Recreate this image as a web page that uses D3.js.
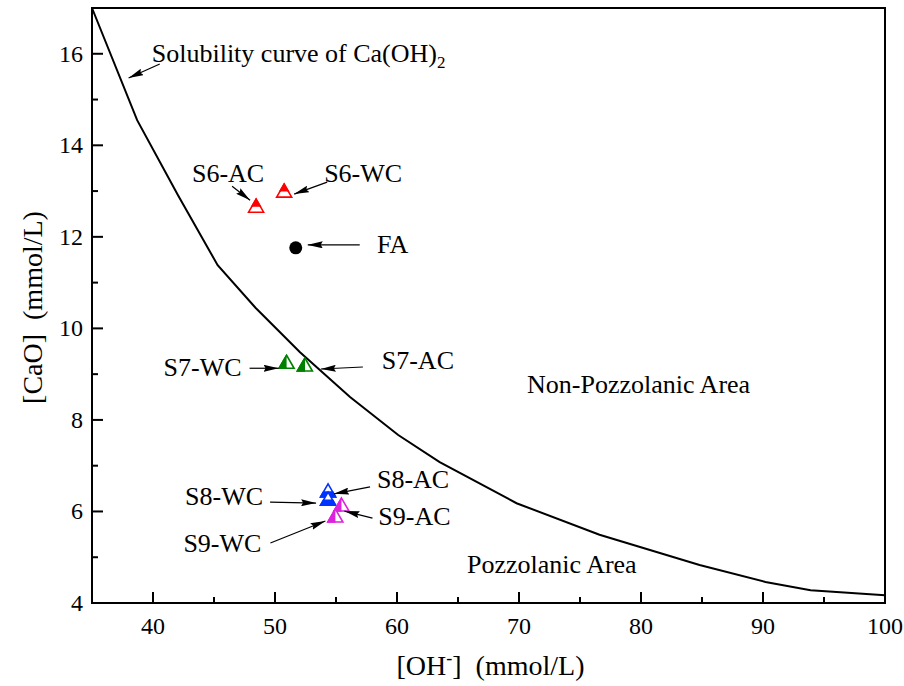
<!DOCTYPE html>
<html><head><meta charset="utf-8">
<script src="https://cdn.jsdelivr.net/npm/d3@7"></script>
<style>
html,body{margin:0;padding:0;background:#fff;}
text{font-family:"Liberation Serif","Times New Roman",serif;fill:#000;}
</style></head>
<body><svg id="chart" width="904" height="686"></svg>
<script>
// Solubility curve of Ca(OH)2
const curveOH  = [35, 38.7, 42.05, 45.3, 48.4, 52.05, 56.15, 60.1, 63.5, 69.8, 76.6, 84.8, 90.2, 93.9, 100];
const curveCaO = [17.0, 14.55, 12.91, 11.38, 10.45, 9.48, 8.5, 7.67, 7.08, 6.18, 5.49, 4.83, 4.46, 4.28, 4.17];

// Samples
const sampleNames = ["S6-AC", "S6-WC", "FA", "S7-WC", "S7-AC", "S8-AC", "S8-WC", "S9-AC", "S9-WC"];
const sampleOH    = [48.45, 50.75, 51.7, 50.95, 52.45, 54.35, 54.35, 55.45, 54.95];
const sampleCaO   = [12.67, 13.0, 11.76, 9.26, 9.2, 6.45, 6.27, 6.14, 5.9];

// Tick values
const xTicks = [40, 50, 60, 70, 80, 90, 100];
const xMinorTicks = [45, 55, 65, 75, 85, 95];
const yTicks = [4, 6, 8, 10, 12, 14, 16];
const yMinorTicks = [5, 7, 9, 11, 13, 15];

// ---- styling / layout (not data) ----
const markerStyle = {
  "S6-AC": {shape: "tri", color: "#ff0000", half: "top"},
  "S6-WC": {shape: "tri", color: "#ff0000", half: "top"},
  "FA":    {shape: "circle", color: "#000000"},
  "S7-WC": {shape: "tri", color: "#008000", half: "left"},
  "S7-AC": {shape: "tri", color: "#008000", half: "left"},
  "S8-AC": {shape: "tri", color: "#0033ff", half: "bottom"},
  "S8-WC": {shape: "tri", color: "#0033ff", half: "bottom"},
  "S9-AC": {shape: "tri", color: "#dd22dd", half: "left"},
  "S9-WC": {shape: "tri", color: "#dd22dd", half: "left"}
};
// label offset (tx, ty) and arrow from (ax1, ay1) to (ax2, ay2), in px relative to marker
const labelLayout = {
  "S6-AC": [-28, -24, -24, -20, -6, -6],
  "S6-WC": [79, -9, 43, -9, 10, 3],
  "FA":    [97, 5, 64, -3, 12, -3],
  "S7-WC": [-84, 14, -37, 6, -8, 6],
  "S7-AC": [113, 4, 58, 2, 16, 4],
  "S8-AC": [85, -3, 42, -4, 6, 3],
  "S8-WC": [-104, 6, -58, 3, -12, 4],
  "S9-AC": [73, 20, 31, 13, 3, 6],
  "S9-WC": [-113, 36, -65, 27, -10, 5]
};

const svg = d3.select("#chart");
const W = 904, H = 686;
const m = {left: 92, right: 19, top: 8, bottom: 83};
const x = d3.scaleLinear().domain([35, 100]).range([m.left, W - m.right]);
const y = d3.scaleLinear().domain([4, 17]).range([H - m.bottom, m.top]);
const LABEL_FS = 26, TICK_FS = 24, TITLE_FS = 28;

// defs
const defs = svg.append("defs");
defs.append("marker").attr("id", "arr").attr("viewBox", "0 0 15 7")
  .attr("refX", 15).attr("refY", 3.5).attr("markerWidth", 15).attr("markerHeight", 7)
  .attr("markerUnits", "userSpaceOnUse").attr("orient", "auto")
  .append("path").attr("d", "M0,0 L15,3.5 L0,7 L2,3.5 Z").attr("fill", "#000");
const clips = {top: [-9, -9, 18, 9.5], bottom: [-9, 0.5, 18, 9], left: [-9, -9, 9, 18]};
Object.entries(clips).forEach(([k, r]) => {
  defs.append("clipPath").attr("id", "clip-" + k)
    .append("rect").attr("x", r[0]).attr("y", r[1]).attr("width", r[2]).attr("height", r[3]);
});

// curve
const line = d3.line().x((d, i) => x(curveOH[i])).y((d, i) => y(curveCaO[i]));
svg.append("path").datum(curveOH).attr("d", line)
  .attr("fill", "none").attr("stroke", "#000").attr("stroke-width", 2);

// axes (ticks inward)
const axG = svg.append("g");
const y0 = y.range()[0];
axG.selectAll(".xmaj").data(xTicks).join("line").attr("class", "xmaj")
  .attr("x1", d => x(d)).attr("x2", d => x(d)).attr("y1", y0).attr("y2", y0 - 11)
  .attr("stroke", "#000").attr("stroke-width", 2);
axG.selectAll(".xmin").data(xMinorTicks).join("line").attr("class", "xmin")
  .attr("x1", d => x(d)).attr("x2", d => x(d)).attr("y1", y0).attr("y2", y0 - 6)
  .attr("stroke", "#000").attr("stroke-width", 2);
axG.selectAll(".ymaj").data(yTicks).join("line").attr("class", "ymaj")
  .attr("x1", m.left).attr("x2", m.left + 11).attr("y1", d => y(d)).attr("y2", d => y(d))
  .attr("stroke", "#000").attr("stroke-width", 2);
axG.selectAll(".ymin").data(yMinorTicks).join("line").attr("class", "ymin")
  .attr("x1", m.left).attr("x2", m.left + 6).attr("y1", d => y(d)).attr("y2", d => y(d))
  .attr("stroke", "#000").attr("stroke-width", 2);
axG.selectAll(".xlab").data(xTicks).join("text").attr("class", "xlab")
  .attr("x", d => x(d)).attr("y", y0 + 31).attr("text-anchor", "middle")
  .attr("font-size", TICK_FS).text(d3.format("d"));
axG.selectAll(".ylab").data(yTicks).join("text").attr("class", "ylab")
  .attr("x", m.left - 9).attr("y", d => y(d) + 8).attr("text-anchor", "end")
  .attr("font-size", TICK_FS).text(d3.format("d"));

// frame
svg.append("rect").attr("x", m.left).attr("y", m.top)
  .attr("width", W - m.left - m.right).attr("height", H - m.top - m.bottom)
  .attr("fill", "none").attr("stroke", "#000").attr("stroke-width", 2);

// axis titles
const xt = svg.append("text").attr("x", (m.left + W - m.right) / 2 + 2).attr("y", 675)
  .attr("text-anchor", "middle").attr("font-size", TITLE_FS);
xt.append("tspan").text("[OH");
xt.append("tspan").text("-").attr("font-size", 18).attr("dy", -11);
xt.append("tspan").text("]\u00a0\u00a0(mmol/L)").attr("dy", 11);

svg.append("text").attr("transform", `translate(42,${(m.top + H - m.bottom) / 2 + 2}) rotate(-90)`)
  .attr("text-anchor", "middle").attr("font-size", TITLE_FS).text("[CaO]\u00a0\u00a0(mmol/L)");

// samples
const tri = "M0,-7 L7.5,6 L-7.5,6 Z";
sampleNames.forEach((name, i) => {
  const st = markerStyle[name];
  const g = svg.append("g").attr("transform", `translate(${x(sampleOH[i])},${y(sampleCaO[i])})`);
  if (st.shape === "circle") {
    g.append("circle").attr("r", 6.5).attr("fill", st.color);
  } else {
    g.append("path").attr("d", tri).attr("fill", "#fff").attr("stroke", st.color).attr("stroke-width", 1.6);
    g.append("path").attr("d", tri).attr("fill", st.color).attr("stroke", st.color).attr("stroke-width", 1.6)
      .attr("clip-path", `url(#clip-${st.half})`);
  }
});

// labels and arrows
sampleNames.forEach((name, i) => {
  const L = labelLayout[name];
  const px = x(sampleOH[i]), py = y(sampleCaO[i]);
  svg.append("text").attr("x", px + L[0]).attr("y", py + L[1])
    .attr("text-anchor", "middle").attr("font-size", LABEL_FS).text(name);
  svg.append("line").attr("x1", px + L[2]).attr("y1", py + L[3])
    .attr("x2", px + L[4]).attr("y2", py + L[5])
    .attr("stroke", "#000").attr("stroke-width", 1.2).attr("marker-end", "url(#arr)");
});

// curve label
const curveLabel = {x: 39.9, y: 15.82};
const cl = svg.append("text").attr("x", x(curveLabel.x)).attr("y", y(curveLabel.y)).attr("font-size", LABEL_FS);
cl.append("tspan").text("Solubility curve of Ca(OH)");
cl.append("tspan").text("2").attr("font-size", 17).attr("dy", 6);
svg.append("line").attr("x1", x(curveLabel.x) + 8).attr("y1", y(curveLabel.y) + 2)
  .attr("x2", x(38.0)).attr("y2", y(15.47))
  .attr("stroke", "#000").attr("stroke-width", 1.2).attr("marker-end", "url(#arr)");

// area labels
const areaLabels = [{text: "Non-Pozzolanic Area", x: 70.66, y: 8.59}, {text: "Pozzolanic Area", x: 65.74, y: 4.66}];
areaLabels.forEach(a => {
  svg.append("text").attr("x", x(a.x)).attr("y", y(a.y)).attr("font-size", LABEL_FS).text(a.text);
});
</script></body></html>
